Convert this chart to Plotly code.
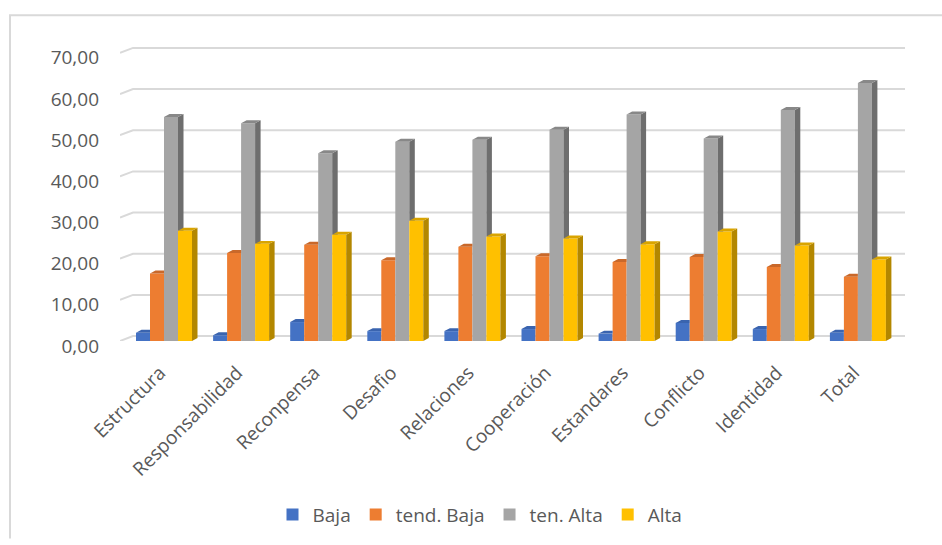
import plotly.graph_objects as go

categories = ["Estructura", "Responsabilidad", "Reconpensa", "Desafio", "Relaciones",
              "Cooperación", "Estandares", "Conflicto", "Identidad", "Total"]
series_names = ["Baja", "tend. Baja", "ten. Alta", "Alta"]
baja = [2.0, 1.4, 4.6, 2.4, 2.4, 2.9, 1.8, 4.4, 2.9, 2.0]
tend_baja = [16.4, 21.4, 23.4, 19.6, 22.9, 20.6, 19.2, 20.4, 18.0, 15.6]
ten_alta = [54.4, 52.9, 45.6, 48.4, 48.9, 51.3, 55.0, 49.2, 56.1, 62.7]
alta = [26.8, 23.6, 25.8, 29.2, 25.4, 24.9, 23.5, 26.6, 23.2, 19.8]
y_ticks = [0, 10, 20, 30, 40, 50, 60, 70]
y_ticktext = ["0,00", "10,00", "20,00", "30,00", "40,00", "50,00", "60,00", "70,00"]

front_colors = ["#4472C4", "#ED7D31", "#A5A5A5", "#FFC000"]
side_colors = ["#2F538F", "#B0591F", "#6E6E6E", "#B38700"]
top_colors = ["#3A64AF", "#C9682A", "#888888", "#D9A400"]

# layout geometry (pixels)
W, H = 942, 545
L, R, T, B = 120, 905, 40, 345
PX_PER_CAT = 77.1
FIRST_CENTER = 164
PX_PER_UNIT = 292 / 70
ux = 1 / PX_PER_CAT          # x data units per pixel
uy = 1 / PX_PER_UNIT         # y data units per pixel
x_min = (L - FIRST_CENTER) * ux
x_max = (R - FIRST_CENTER) * ux
y_max = (B - T) * uy

bar_w = 14 * ux
depth_dx = 5.5 * ux
depth_dy = 3 * uy
wall_dx = 13 * ux
wall_dy = 5 * uy

series = [baja, tend_baja, ten_alta, alta]
xs = list(range(len(categories)))

fig = go.Figure()

# front faces (bars)
for k, (name, vals) in enumerate(zip(series_names, series)):
    fig.add_trace(go.Bar(
        x=xs, y=vals, name=name, width=bar_w, offset=(-2 + k) * bar_w,
        marker=dict(color=front_colors[k], line=dict(width=0)),
        hoverinfo="skip",
    ))

# side and top faces (3D look), computed from the data
for k, vals in enumerate(series):
    for i, v in enumerate(vals):
        left = i + (-2 + k) * bar_w
        right = left + bar_w
        v_next = series[k + 1][i] if k < 3 else 0.0
        if v_next < v:
            lo = max(v_next, 0.0)
            sx = [right, right + depth_dx, right + depth_dx, right, right]
            sy = [lo, lo + (depth_dy if lo == 0 else 0), v + depth_dy, v, lo]
            fig.add_trace(go.Scatter(x=sx, y=sy, mode="lines", fill="toself",
                                     fillcolor=side_colors[k], line=dict(width=0),
                                     showlegend=False, hoverinfo="skip"))
        if v_next >= v:
            tx = [left, right, right, left + depth_dx, left]
        else:
            tx = [left, right, right + depth_dx, left + depth_dx, left]
        ty = [v, v, v + depth_dy, v + depth_dy, v]
        fig.add_trace(go.Scatter(x=tx, y=ty, mode="lines", fill="toself",
                                 fillcolor=top_colors[k], line=dict(width=0),
                                 showlegend=False, hoverinfo="skip"))

shapes = []
for t in y_ticks:
    path = (f"M {x_min},{t} L {x_min + wall_dx},{t + wall_dy} "
            f"L {x_max},{t + wall_dy}")
    shapes.append(dict(type="path", path=path, xref="x", yref="y",
                       line=dict(color="#D9D9D9", width=2), layer="below"))

pw, ph = R - L, B - T
bx = (10 - L) / pw
by_top = (B - 15) / ph
by_bot = (B - H) / ph
bx_right = (W - L) / pw
shapes.append(dict(type="path", xref="paper", yref="paper",
                   path=f"M {bx},{by_bot} L {bx},{by_top} L {bx_right},{by_top}",
                   line=dict(color="#D9D9D9", width=2), layer="below"))

fig.update_layout(
    width=W, height=H,
    margin=dict(l=L, r=W - R, t=T, b=H - B, pad=0),
    paper_bgcolor="white", plot_bgcolor="white",
    barmode="overlay",
    shapes=shapes,
    font=dict(family="Open Sans", color="#595959"),
    showlegend=True,
    legend=dict(orientation="h", x=(480 - L) / pw, xanchor="center",
                y=(B - 521) / ph, yanchor="middle",
                font=dict(size=19, color="#595959"), traceorder="normal"),
    xaxis=dict(range=[x_min, x_max], tickmode="array", tickvals=xs, ticktext=categories,
               tickangle=-45, showgrid=False, zeroline=False, showline=False,
               ticks="", tickfont=dict(size=19, color="#595959"), ticklabelstandoff=16,
               ticklabelshift=-4),
    yaxis=dict(range=[0, y_max], tickmode="array", tickvals=y_ticks, ticktext=y_ticktext,
               showgrid=False, zeroline=False, showline=False, ticks="",
               tickfont=dict(size=19, color="#595959"), ticklabelstandoff=20,
               ticklabelshift=5),
)

fig.write_html("out.html")
